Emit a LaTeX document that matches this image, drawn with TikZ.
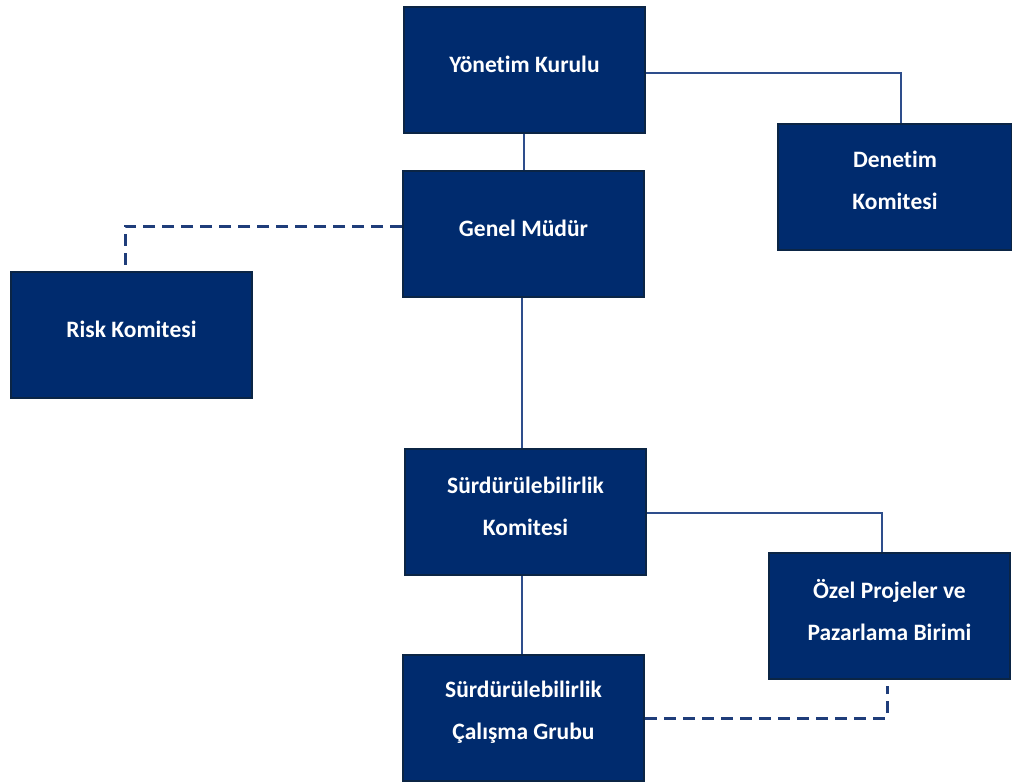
\documentclass[tikz,border=0pt]{standalone}
\usepackage{fontspec}
\setmainfont[Ligatures=NoCommon]{Carlito}
\newcommand\nolig{\kern0pt\relax}
\definecolor{navy}{HTML}{002B6E}
\definecolor{edge}{HTML}{0B2545}
\definecolor{link}{HTML}{2E4E8C}
\definecolor{dlink}{HTML}{1F3D7A}
\begin{document}
\begin{tikzpicture}[x=1pt,y=-1pt,
  box/.style={draw=edge,line width=2pt,fill=navy,minimum width=241pt,minimum height=126pt,
    anchor=north west,inner sep=0pt},
  lbl/.style={text=white,font=\bfseries\fontsize{23.5}{42}\selectfont,align=center},
  solidlink/.style={draw=link,line width=1.6pt},
  dashlink/.style={draw=dlink,line width=3pt,dash pattern=on 12pt off 7pt}]
\useasboundingbox (0,0) rectangle (1012,782);
\node[box] (yk) at (403,6) {};
\node[box,minimum width=234pt] (dk) at (777,123) {};
\node[box] (gm) at (402,170) {};
\node[box] (rk) at (10,271) {};
\node[box] (sk) at (404,448) {};
\node[box] (op) at (768,552) {};
\node[box] (sg) at (402,654) {};
\node[lbl] at ([yshift=6pt]yk.center) {Yönet\nolig im Kurulu};
\node[lbl] at ([yshift=7pt]dk.center) {Denet\nolig im\\Komit\nolig esi};
\node[lbl] at ([yshift=6pt]gm.center) {Genel Müdür};
\node[lbl] at ([yshift=6pt]rk.center) {Risk Komit\nolig esi};
\node[lbl] at ([yshift=6pt]sk.center) {Sürdürülebilirlik\\Komit\nolig esi};
\node[lbl] at ([yshift=6pt]op.center) {Özel Projeler ve\\Pazarlama Birimi};
\node[lbl] at ([yshift=6pt]sg.center) {Sürdürülebilirlik\\Çalışma Grubu};
\coordinate (c1) at (524,0);
\draw[solidlink] (yk.south -| c1) -- (gm.north -| c1);
\coordinate (c2) at (901,73);
\draw[solidlink] (yk.east |- c2) -- (c2) -- (dk.north -| c2);
\coordinate (c3) at (125,226);
\draw[dashlink] (gm.west |- c3) -- (c3) -- (rk.north -| c3);
\coordinate (c4) at (522,0);
\draw[solidlink] (gm.south -| c4) -- (sk.north -| c4);
\coordinate (c5) at (882,513);
\draw[solidlink] (sk.east |- c5) -- (c5) -- (op.north -| c5);
\draw[solidlink] (sk.south -| c4) -- (sg.north -| c4);
\coordinate (c6) at (887,718);
\draw[dashlink] (sg.east |- c6) -- (c6) -- ([yshift=-6pt]op.south -| c6);
\end{tikzpicture}
\end{document}
